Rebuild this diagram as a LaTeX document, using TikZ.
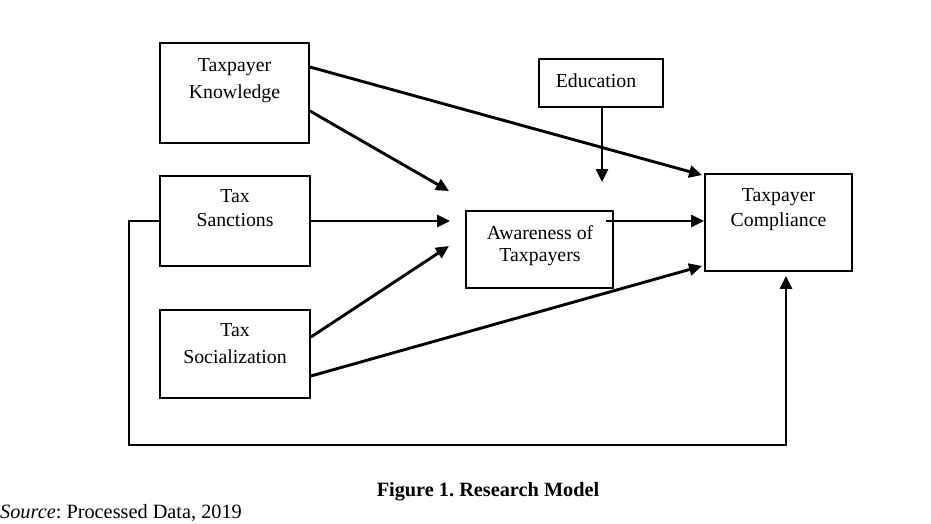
\documentclass[tikz,border=0pt]{standalone}
\usepackage{fontspec}
\setmainfont{Liberation Serif}
\usetikzlibrary{arrows.meta}
\frenchspacing
\begin{document}
\begin{tikzpicture}[x=1pt,y=-1pt,
  box/.style={draw, line width=1.9pt, inner sep=0pt},
  txt/.style={font={\fontsize{19.8}{#1}\selectfont}, align=center, inner sep=0pt, anchor=north},
  arr/.style={line width=2.9pt, -{Triangle[length=13pt,width=12pt]}},
  captext/.style={font={\fontsize{20.3}{24}\selectfont}, inner sep=0pt}]
\useasboundingbox (0,0) rectangle (931,523);
% boxes
\node[box, minimum width=149pt, minimum height=100pt] (kn) at (234.5,93) {};
\node[box, minimum width=150pt, minimum height=90pt] (sa) at (235,221) {};
\node[box, minimum width=150pt, minimum height=88pt] (so) at (235,354) {};
\node[box, minimum width=147pt, minimum height=77pt] (aw) at (539.5,249.5) {};
\node[box, minimum width=124pt, minimum height=48pt] (ed) at (601,83) {};
\node[box, minimum width=147pt, minimum height=97pt] (co) at (778.5,222.5) {};
% texts
\node[txt=27pt] (knt) at (234.5,58) {Taxpayer\\Knowledge};
\node[txt=24pt] (sat) at (235,189) {Tax\\Sanctions};
\node[txt=27pt] (sot) at (235,323) {Tax\\Socialization};
\node[txt=22pt] (awt) at (540,225) {Awareness of\\Taxpayers};
\node[txt=24pt] (edt) at (596,74) {Education};
\node[txt=25pt] (cot) at (778.5,188) {Taxpayer\\Compliance};
% free ends
\coordinate (f1) at (449,191);
\coordinate (f2) at (450,221);
\coordinate (f3) at (449,246);
\coordinate (f4) at (602,182);
\coordinate (fl) at (129,445);
\coordinate (aws) at (606,221);
% connectors
\draw[arr] ([yshift=26pt]kn.east) -- ([xshift=-2pt,yshift=-2pt]co.north west);
\draw[arr] ([yshift=-18pt]kn.east) -- (f1);
\draw[arr] (sa.east) -- (f2);
\draw[arr] ([yshift=17pt]so.east) -- (f3);
\draw[arr] ([yshift=-22pt]so.east) -- ([xshift=-2pt,yshift=6pt]co.south west);
\draw[arr] (aws) -- (aws -| co.west);
\draw[arr] ([xshift=1pt]ed.south) -- (f4);
\draw[arr] (sa.west) -| (fl) -| ([xshift=7.5pt,yshift=-4pt]co.south);
% captions
\node[captext, anchor=base, font={\fontsize{20.3}{24}\selectfont\bfseries}] (fig) at (488,496) {Figure 1. Research Model};
\node[captext, anchor=base west] (src) at (0,518) {\textit{Source}: Processed Data, 2019};
\end{tikzpicture}
\end{document}
